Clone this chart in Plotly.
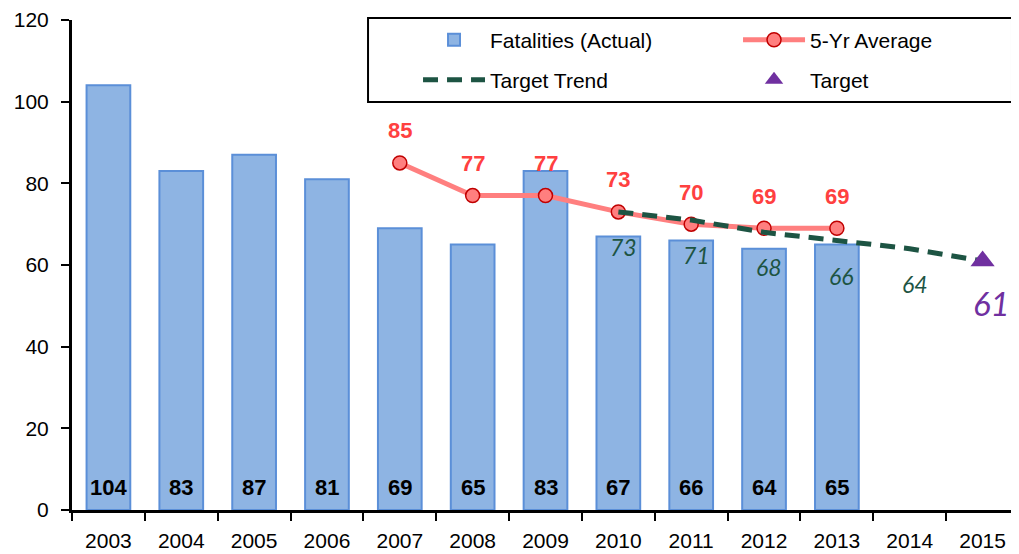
import plotly.graph_objects as go

years = ["2003", "2004", "2005", "2006", "2007", "2008", "2009", "2010", "2011", "2012", "2013", "2014", "2015"]
fatalities = [104, 83, 87, 81, 69, 65, 83, 67, 66, 64, 65]
avg_years = ["2007", "2008", "2009", "2010", "2011", "2012", "2013"]
avg_values = [85, 77, 77, 73, 70, 69, 69]
trend_years = ["2010", "2011", "2012", "2013", "2014", "2015"]
trend_values = [73, 71, 68, 66, 64, 61]
target_year = ["2015"]
target_value = [61]
y_ticks = [0, 20, 40, 60, 80, 100, 120]

BASE = "Liberation Sans, Arial"
fig = go.Figure()

fig.add_trace(go.Bar(
    x=years[:len(fatalities)], y=fatalities, name="Fatalities (Actual)", legend="legend",
    marker=dict(color="#8EB4E3", line=dict(color="#5B8FD8", width=2)),
))

fig.add_trace(go.Scatter(
    x=avg_years, y=avg_values, name="5-Yr Average", mode="lines+markers", legend="legend2",
    line=dict(color="#FF7F7F", width=5),
    marker=dict(symbol="circle", size=14, color="#FF7F7F", line=dict(color="#C00000", width=1.5)),
))

fig.add_trace(go.Scatter(
    x=trend_years, y=trend_values, name="Target Trend", mode="lines", legend="legend3",
    line=dict(color="#1D5443", width=5, dash="15px,9px"),
))

fig.add_trace(go.Scatter(
    x=target_year, y=target_value, name="Target", mode="markers", legend="legend4",
    marker=dict(symbol="triangle-up", size=21, color="#7030A0"),
))

def idx(y):
    return years.index(y)

annotations = []
for i, v in enumerate(fatalities):
    annotations.append(dict(x=i, y=0, text="<b>%d</b>" % v, showarrow=False, yshift=23,
                            font=dict(family=BASE, size=22, color="black")))
for x, v in zip(avg_years, avg_values):
    annotations.append(dict(x=idx(x), y=v, text="<b>%d</b>" % v, showarrow=False, yshift=32,
                            font=dict(family=BASE, size=22, color="#FF4040")))
for x, v in zip(trend_years[:-1], trend_values[:-1]):
    annotations.append(dict(x=idx(x), y=v, text="<i>%d</i>" % v, showarrow=False, yshift=-35, xshift=5,
                            font=dict(family="Lato", size=23, color="#1D5443")))
annotations.append(dict(x=idx(target_year[0]), y=target_value[0], text="<i>%d</i>" % target_value[0],
                        showarrow=False, yshift=-42, xshift=9,
                        font=dict(family="Lato", size=33, color="#7030A0")))

legend_common = dict(
    orientation="h", xanchor="left", yanchor="middle",
    bgcolor="rgba(0,0,0,0)", borderwidth=0, itemwidth=62,
    font=dict(size=21, family=BASE),
)

fig.update_layout(
    width=1011, height=546,
    margin=dict(l=64, r=0, t=12, b=44),
    plot_bgcolor="white", paper_bgcolor="white",
    bargap=0.4,
    font=dict(family=BASE, size=21, color="black"),
    showlegend=True,
    legend=dict(x=0.3654, y=0.959, **legend_common),
    legend2=dict(x=0.7033, y=0.959, **legend_common),
    legend3=dict(x=0.3654, y=0.8776, **legend_common),
    legend4=dict(x=0.7033, y=0.8776, **legend_common),
    annotations=annotations,
    shapes=[dict(type="rect", xref="paper", yref="paper", x0=0.3126, x1=0.9926, y0=0.8327, y1=1.004,
                 line=dict(color="black", width=2), fillcolor="white", layer="above")],
    xaxis=dict(
        type="category", categoryorder="array", categoryarray=years,
        range=[-0.5, 12.5], automargin=False,
        showline=True, linecolor="black", linewidth=3,
        ticks="outside", ticklen=8, tickwidth=2, tickcolor="black",
        tickson="boundaries", tickfont=dict(size=21), ticklabelstandoff=10,
    ),
    yaxis=dict(
        range=[0, 120], tickvals=y_ticks, automargin=False,
        showline=True, linecolor="black", linewidth=3, showgrid=False, zeroline=False,
        ticks="outside", ticklen=8, tickwidth=2, tickcolor="black",
        tickfont=dict(size=21), ticklabelstandoff=8,
    ),
    xaxis2=dict(
        type="category", categoryorder="array", categoryarray=years,
        range=[-0.5, 12.5], overlaying="x", anchor="y", side="bottom",
        showline=False, showgrid=False, showticklabels=False, zeroline=False,
        ticks="inside", ticklen=6, tickwidth=2, tickcolor="black", tickson="boundaries",
    ),
    yaxis2=dict(
        range=[0, 120], tickvals=y_ticks, overlaying="y", anchor="x", side="left",
        showline=False, showgrid=False, showticklabels=False, zeroline=False,
        ticks="inside", ticklen=6, tickwidth=2, tickcolor="black",
    ),
)

fig.write_html("out.html")
